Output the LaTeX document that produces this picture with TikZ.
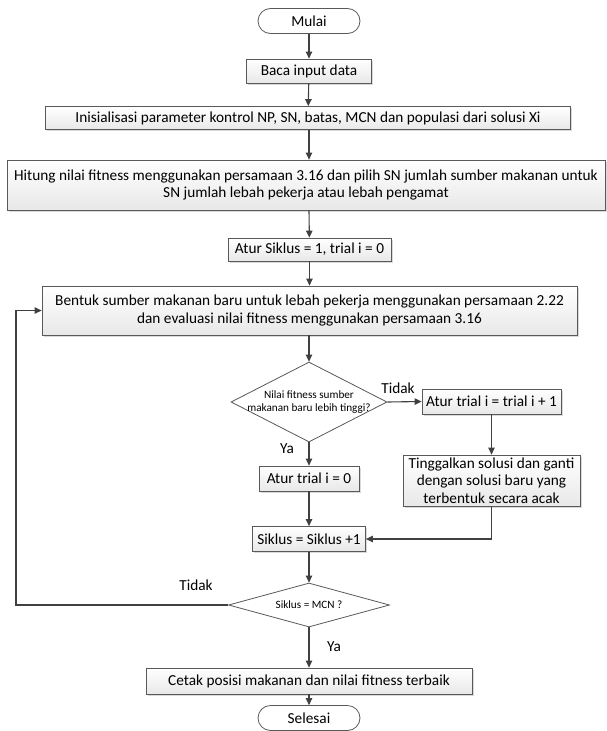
\documentclass[tikz,border=0pt]{standalone}
\usepackage{fontspec}
\setmainfont{Carlito}
\usetikzlibrary{shapes.geometric,arrows.meta,shadows}
\begin{document}
\begin{tikzpicture}[x=1pt,y=-1pt,
  every node/.style={font=\fontsize{15.3}{17.5}\selectfont, text=black},
  box/.style={draw=black!65, line width=0.8pt, top color=white, bottom color=black!9,
    drop shadow={shadow xshift=1.6pt, shadow yshift=-1.6pt, opacity=0.3},
    inner sep=0pt, align=center},
  term/.style={draw=black!65, line width=0.8pt, fill=white, rounded corners=12.5pt, inner sep=0pt},
  dec/.style={diamond, draw=black!65, line width=0.8pt, fill=white, inner sep=0pt},
  dtext/.style={inner sep=0pt, align=center, font=\fontsize{11.2}{13.5}\selectfont},
  conn/.style={draw=black!75, line width=1.1pt, -{Triangle[length=7pt,width=6.5pt]}},
  lbl/.style={inner sep=0pt}]
\useasboundingbox (0,0) rectangle (606,731);

\node[term, minimum width=102pt, minimum height=25pt] (mulai) at (309,21) {Mulai};
\node[box, minimum width=125pt, minimum height=24pt] (baca) at (309,71) {Baca input data};
\node[box, minimum width=525pt, minimum height=23pt] (init) at (308,118) {Inisialisasi parameter kontrol NP, SN, batas, MCN dan populasi dari solusi Xi};
\node[box, minimum width=598pt, minimum height=50pt] (hitung) at (306,185) {Hitung nilai fitness menggunakan persamaan 3.16 dan pilih SN jumlah sumber makanan untuk\\SN jumlah lebah pekerja atau lebah pengamat};
\node[box, minimum width=163pt, minimum height=23pt] (atur1) at (309.5,249.5) {Atur Siklus = 1, trial i = 0};
\node[box, minimum width=535pt, minimum height=49pt] (bentuk) at (309.5,310.5) {Bentuk sumber makanan baru untuk lebah pekerja menggunakan persamaan 2.22\\dan evaluasi nilai fitness menggunakan persamaan 3.16};
\node[dec, minimum width=156pt, minimum height=80pt] (d1) at (309,402) {};
\node[dtext] (d1t) at (309,402) {Nilai fitness sumber\\makanan baru lebih tinggi?};
\node[box, minimum width=139pt, minimum height=25pt] (trial1) at (491.5,401.5) {Atur trial i = trial i + 1};
\node[box, minimum width=100pt, minimum height=25pt] (trial0) at (309,478.5) {Atur trial i = 0};
\node[box, minimum width=177pt, minimum height=51pt] (tinggal) at (491.5,480.5) {Tinggalkan solusi dan ganti\\dengan solusi baru yang\\terbentuk secara acak};
\node[box, minimum width=113pt, minimum height=25pt] (siklus) at (309,539) {Siklus = Siklus +1};
\node[dec, minimum width=161pt, minimum height=44pt] (d2) at (309,605) {};
\node[dtext] (d2t) at (309,605) {Siklus = MCN ?};
\node[box, minimum width=326pt, minimum height=26pt] (cetak) at (309,681) {Cetak posisi makanan dan nilai fitness terbaik};
\node[term, minimum width=102pt, minimum height=25pt] (selesai) at (309,718) {Selesai};

\node[lbl] (tidak1) at (398,388) {Tidak};
\node[lbl] (ya1) at (287,449) {Ya};
\node[lbl] (tidak2) at (196,585) {Tidak};
\node[lbl] (ya2) at (334,647) {Ya};

\coordinate (lp) at (16,605);

\draw[conn] (mulai) -- (baca);
\draw[conn] (baca) -- (init);
\draw[conn] (init.south -| baca) -- (hitung.north -| baca);
\draw[conn] (hitung.south -| baca) -- (atur1);
\draw[conn] (atur1) -- (bentuk.north -| atur1);
\draw[conn] (bentuk.south -| d1) -- (d1.north);
\draw[conn] (d1.east) -- (trial1.west);
\draw[conn] (trial1) -- (tinggal);
\draw[conn] (d1.south) -- (trial0.north);
\draw[conn] (trial0) -- (siklus);
\draw[conn] (tinggal.south) |- (siklus.east);
\draw[conn] (siklus) -- (d2.north);
\draw[conn] (d2.south) -- (cetak.north -| d2);
\draw[conn] (cetak.south -| d2) -- (selesai);
\draw[conn] (d2.west) -- (lp) |- (bentuk.west);
\end{tikzpicture}
\end{document}
